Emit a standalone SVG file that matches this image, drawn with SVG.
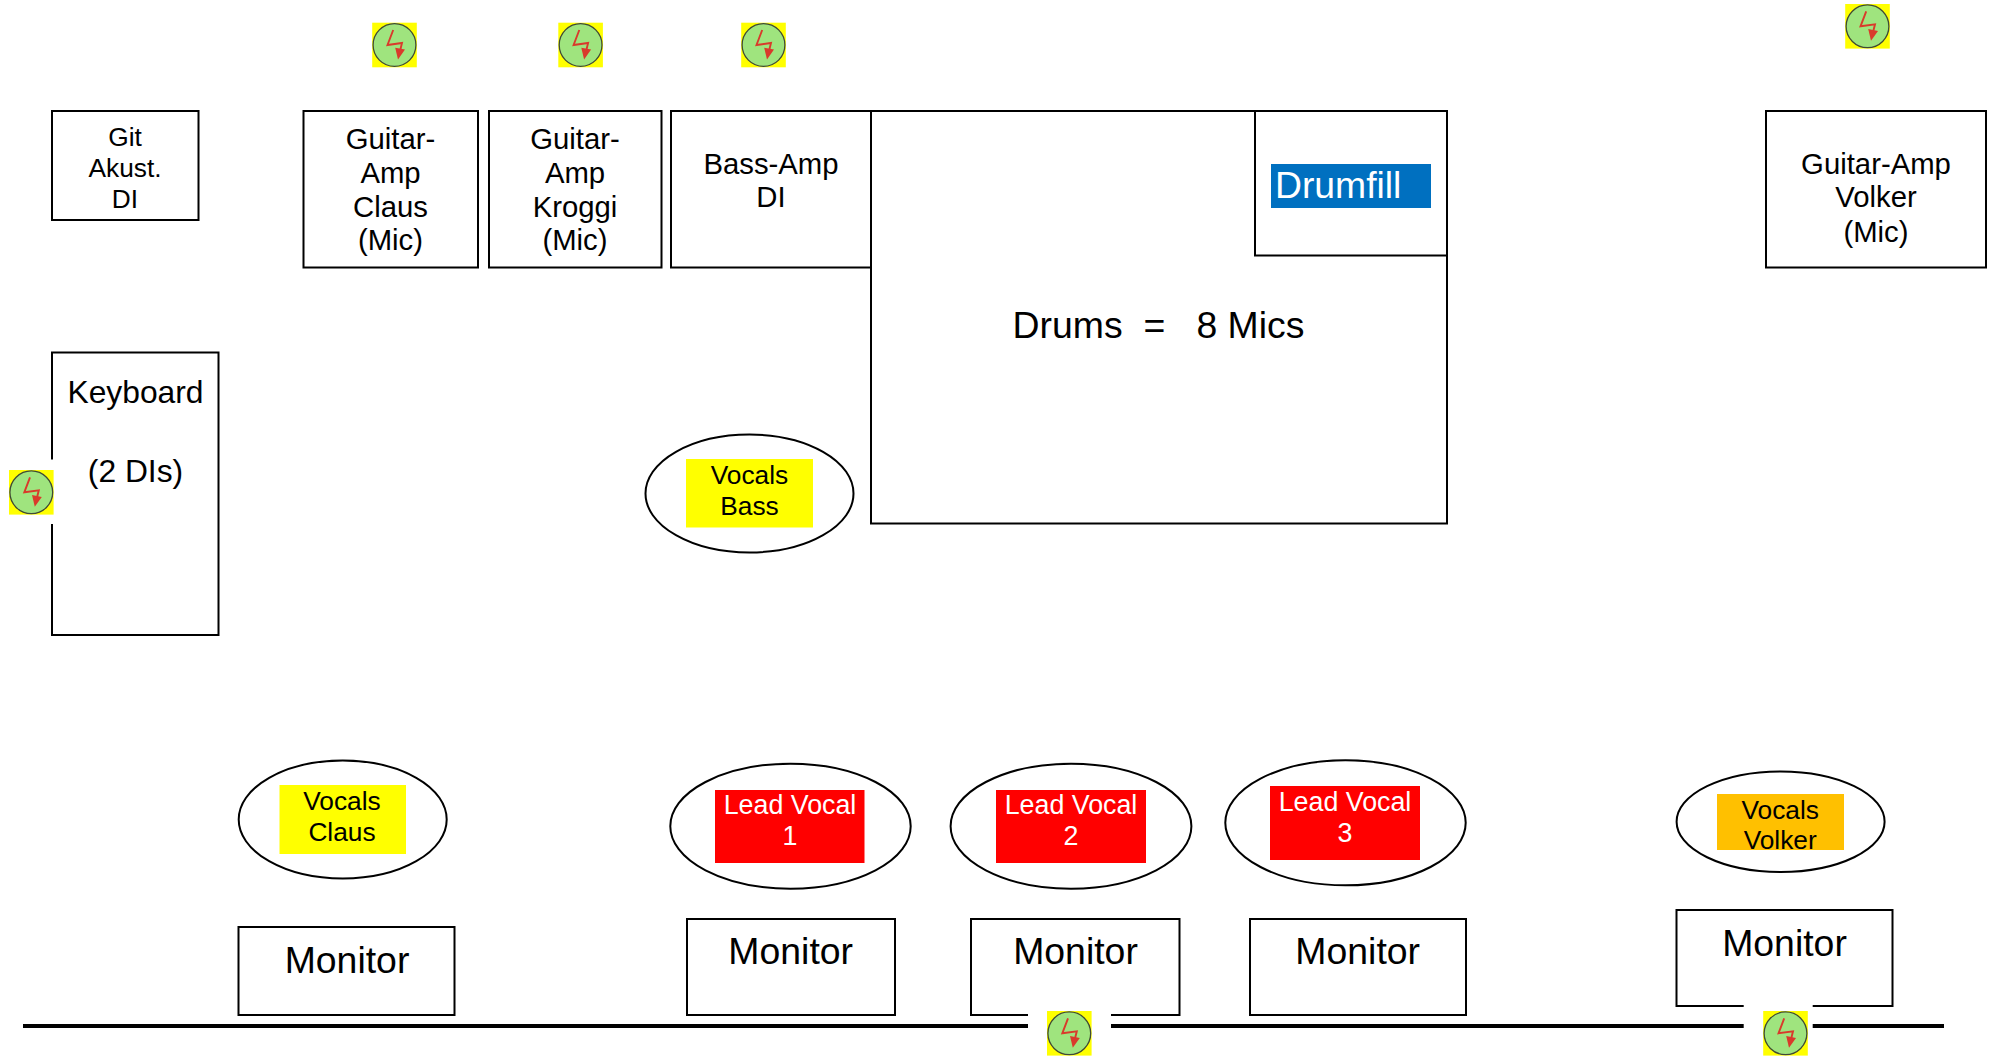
<svg xmlns="http://www.w3.org/2000/svg" width="1991" height="1056" viewBox="0 0 1991 1056">
<style>
text{font-family:"Liberation Sans",Arial,sans-serif;fill:#000;text-anchor:middle;white-space:pre}
.box{fill:#fff;stroke:#000;stroke-width:2}
.ell{fill:#fff;stroke:#000;stroke-width:2}
.s26{font-size:26.3px}.s29{font-size:29.3px}.s31{font-size:31.8px}.s37{font-size:37.4px}.lead{font-size:26.8px;fill:#fff}
.bus{stroke:#000;stroke-width:4;fill:none}
.mask{fill:#fff}
</style>
<defs>
<g id="mic">
<rect x="-22.3" y="-22.3" width="44.6" height="44.6" fill="#ffff00"/>
<circle r="21.4" fill="#9fe47e" stroke="#3f4a35" stroke-width="1.3"/>
<polyline points="-1.3,-15 -7,0 7.5,-2 5.5,6" fill="none" stroke="#d93a2b" stroke-width="1.9"/>
<polygon points="3.5,14.5 0.7,2.8 10.5,4.6" fill="#d93a2b"/>
</g>
</defs>

<g id="git-akust"><rect class="box" x="52" y="111" width="146.5" height="109"/>
<text class="s26" x="125" y="145.5">Git</text><text class="s26" x="125" y="176.5">Akust.</text><text class="s26" x="125" y="207.5">DI</text></g>
<g id="guitar-claus"><rect class="box" x="303.5" y="111" width="174.5" height="156.5"/>
<text class="s29" x="390.5" y="148.5">Guitar-</text><text class="s29" x="390.5" y="182.5">Amp</text><text class="s29" x="390.5" y="216.5">Claus</text><text class="s29" x="390.5" y="250">(Mic)</text></g>
<g id="guitar-kroggi"><rect class="box" x="489" y="111" width="172.5" height="156.5"/>
<text class="s29" x="575" y="148.5">Guitar-</text><text class="s29" x="575" y="182.5">Amp</text><text class="s29" x="575" y="216.5">Kroggi</text><text class="s29" x="575" y="250">(Mic)</text></g>
<g id="bass-amp"><rect class="box" x="671" y="111" width="200" height="156.5"/>
<text class="s29" x="771" y="173.5">Bass-Amp</text><text class="s29" x="771" y="206.5">DI</text></g>
<g id="drums"><rect class="box" x="871" y="111" width="576" height="412.5"/>
<text class="s37" x="1158.5" y="337.5">Drums  =   8 Mics</text></g>
<g id="drumfill"><rect class="box" x="1255" y="111" width="192" height="144.5"/>
<rect x="1271" y="164" width="160" height="44" fill="#0070c0"/>
<text x="1275" y="198" style="font-size:37.3px;fill:#fff;text-anchor:start">Drumfill</text></g>
<g id="guitar-volker"><rect class="box" x="1766" y="111" width="220" height="156.5"/>
<text class="s29" x="1876" y="173.5">Guitar-Amp</text><text class="s29" x="1876" y="207">Volker</text><text class="s29" x="1876" y="241.5">(Mic)</text></g>
<g id="keyboard"><rect class="box" x="52" y="352.5" width="166.5" height="282.5"/>
<text class="s31" x="135.5" y="402.5">Keyboard</text><text class="s31" x="135.5" y="481.5">(2 DIs)</text></g>

<g id="vocals-bass"><ellipse class="ell" cx="749.5" cy="493.5" rx="104" ry="59"/>
<rect x="686" y="459" width="127" height="68.5" fill="#ffff00"/>
<text class="s26" x="749.5" y="484">Vocals</text><text class="s26" x="749.5" y="514.5">Bass</text></g>
<g id="vocals-claus"><ellipse class="ell" cx="342.7" cy="819.5" rx="104" ry="59"/>
<rect x="279.5" y="785" width="126.5" height="69" fill="#ffff00"/>
<text class="s26" x="342" y="809.5">Vocals</text><text class="s26" x="342" y="840.5">Claus</text></g>
<g id="lead-1"><ellipse class="ell" cx="790.5" cy="826.2" rx="120.2" ry="62.5"/>
<rect x="715" y="790" width="149.5" height="73" fill="#ff0000"/>
<text class="lead" x="790" y="813.5">Lead Vocal</text><text class="lead" x="790" y="844.5">1</text></g>
<g id="lead-2"><ellipse class="ell" cx="1071" cy="826.2" rx="120.4" ry="62.5"/>
<rect x="996" y="790" width="150" height="73" fill="#ff0000"/>
<text class="lead" x="1071" y="813.5">Lead Vocal</text><text class="lead" x="1071" y="844.5">2</text></g>
<g id="lead-3"><ellipse class="ell" cx="1345.5" cy="822.8" rx="120.2" ry="62.5"/>
<rect x="1270" y="786" width="150" height="74" fill="#ff0000"/>
<text class="lead" x="1345" y="810.5">Lead Vocal</text><text class="lead" x="1345" y="841.5">3</text></g>
<g id="vocals-volker"><ellipse class="ell" cx="1780.6" cy="821.7" rx="104" ry="50.3"/>
<rect x="1717" y="794" width="127" height="56" fill="#ffc000"/>
<text class="s26" x="1780.2" y="819">Vocals</text><text class="s26" x="1780.2" y="849">Volker</text></g>

<g id="monitor-1"><rect class="box" x="238.5" y="927" width="216" height="88"/><text class="s37" x="347" y="972.5">Monitor</text></g>
<g id="monitor-2"><rect class="box" x="687" y="919" width="208" height="96"/><text class="s37" x="790.7" y="963.5">Monitor</text></g>
<g id="monitor-3"><rect class="box" x="971" y="919" width="208.5" height="96"/><text class="s37" x="1075.5" y="963.5">Monitor</text></g>
<g id="monitor-4"><rect class="box" x="1250" y="919" width="216" height="96"/><text class="s37" x="1357.7" y="963.5">Monitor</text></g>
<g id="monitor-5"><rect class="box" x="1676.5" y="910" width="216" height="96"/><text class="s37" x="1784.5" y="955.5">Monitor</text></g>

<g id="connectors"><line class="bus" x1="23" y1="1026" x2="1944" y2="1026"/></g>

<g id="mic-1"><use href="#mic" x="394.5" y="45"/></g>
<g id="mic-2"><use href="#mic" x="580.6" y="45"/></g>
<g id="mic-3"><use href="#mic" x="763.5" y="45"/></g>
<g id="mic-4"><use href="#mic" x="1867.5" y="26.3"/></g>
<g id="mic-5"><rect class="mask" x="40" y="459.5" width="18" height="64.5"/><use href="#mic" x="31.3" y="492.3"/></g>
<g id="mic-6"><rect class="mask" x="1028" y="1005" width="83" height="51"/><use href="#mic" x="1069.3" y="1033.3"/></g>
<g id="mic-7"><rect class="mask" x="1743.7" y="1000" width="69" height="56"/><use href="#mic" x="1785.5" y="1033.3"/></g>
</svg>
